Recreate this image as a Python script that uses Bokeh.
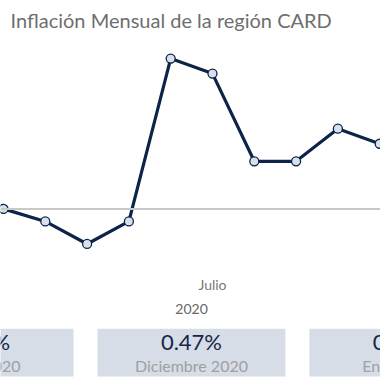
from bokeh.plotting import figure
from bokeh.models import Range1d, FixedTicker, LinearAxis, Span, ColumnDataSource
from bokeh.layouts import column
from bokeh.embed import file_html
from bokeh.resources import INLINE
from bokeh.core.properties import value

# Monthly inflation, CARD region (%), month index 0 = Enero 2020
month_idx = [1, 2, 3, 4, 5, 6, 7, 8, 9, 10, 11]
inflation = [0.00, -0.05, -0.14, -0.05, 0.60, 0.54, 0.19, 0.19, 0.32, 0.26, 0.47]

month_ticks = [0, 6, 12]
month_labels = ["Enero", "Julio", "Enero"]
year_ticks = [5.5, 12]
year_labels = ["2020", "2021"]

card_idx = [0, 1, 2]
card_values = ["0.21%", "0.47%", "0.35%"]
card_labels = ["Enero 2020", "Diciembre 2020", "Enero 2021"]

FONT = "Lato"
NAVY = "#0c2447"

p = figure(width=380, height=328, output_backend="svg", toolbar_location=None,
           x_range=Range1d(0.928, 10.02), y_range=Range1d(-0.19, 0.688),
           min_border_left=0, min_border_right=0, min_border_top=0,
           min_border_bottom=72, outline_line_color=None,
           title="Inflación Mensual de la región CARD")
p.title.text_font = FONT
p.title.text_font_size = "20px"
p.title.text_font_style = "normal"
p.title.text_color = "#6e6e6e"
p.title.offset = 10
p.grid.visible = False
p.yaxis.visible = False

xa = p.xaxis[0]
xa.ticker = FixedTicker(ticks=month_ticks)
xa.major_label_overrides = {t: l for t, l in zip(month_ticks, month_labels)}
xa.axis_line_color = None
xa.major_tick_line_color = None
xa.minor_tick_line_color = None
xa.major_label_standoff = 13
xa.major_label_text_font = FONT
xa.major_label_text_font_size = "14px"
xa.major_label_text_color = "#777777"

ya = LinearAxis(ticker=FixedTicker(ticks=year_ticks),
                major_label_overrides={t: l for t, l in zip(year_ticks, year_labels)})
ya.axis_line_color = None
ya.major_tick_line_color = None
ya.minor_tick_line_color = None
ya.major_label_standoff = 2
ya.major_label_text_font = FONT
ya.major_label_text_font_size = "14px"
ya.major_label_text_color = "#666666"
p.add_layout(ya, "below")

p.add_layout(Span(location=0, dimension="width", line_color="#c8c8c8", line_width=2))

src = ColumnDataSource(dict(x=month_idx, y=inflation))
p.line("x", "y", source=src, line_color=NAVY, line_width=3.2)
p.scatter("x", "y", source=src, size=9, fill_color="#d8e0ec", line_color=NAVY, line_width=1.3)

# KPI cards
c = figure(width=380, height=52, output_backend="svg", toolbar_location=None,
           x_range=Range1d(0.099, 1.892), y_range=Range1d(52, 0),
           min_border=0, outline_line_color=None)
c.axis.visible = False
c.grid.visible = False
csrc = ColumnDataSource(dict(x=card_idx, v=card_values, l=card_labels))
c.rect(x="x", y=24, width=0.887, height=48, source=csrc, fill_color="#d6dde6", line_color=None)
c.text(x="x", y=13, text="v", source=csrc, text_font=value(FONT), text_font_size="22px",
       text_color="#14264a", text_align="center", text_baseline="middle")
c.text(x="x", y=37, text="l", source=csrc, text_font=value(FONT), text_font_size="16px",
       text_color="#a0a0a0", text_align="center", text_baseline="middle")

layout = column(p, c, spacing=0)
open("out.html", "w").write(file_html(layout, INLINE))
